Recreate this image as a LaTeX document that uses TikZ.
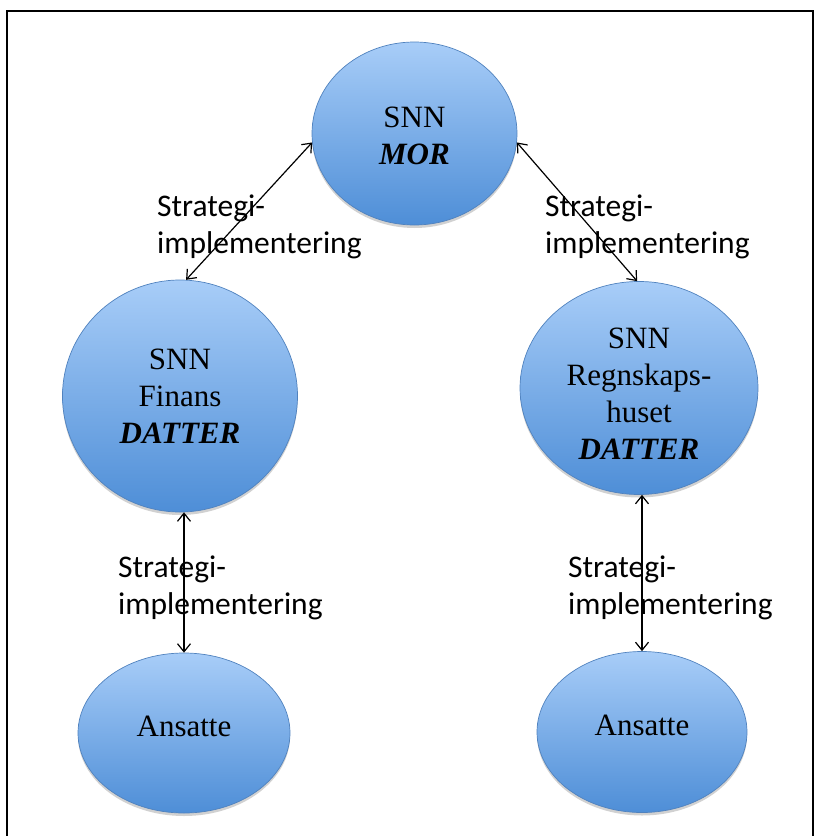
\documentclass[tikz,border=0pt]{standalone}
\usepackage{fontspec}
\setmainfont{Liberation Serif}
\newfontfamily\lblfont{Carlito}
\usetikzlibrary{shapes.geometric,arrows.meta,shadows}
\definecolor{btop}{RGB}{168,205,248}
\definecolor{bbot}{RGB}{78,142,215}
\definecolor{bline}{RGB}{80,130,190}
\tikzset{
  blob/.style={ellipse, draw=bline, line width=0.7pt, top color=btop, bottom color=bbot,
    inner sep=0pt, align=center, font=\fontsize{31}{37}\selectfont,
    drop shadow={shadow xshift=0pt, shadow yshift=-3pt, opacity=0.3, fill=black!60}},
  lbl/.style={font=\lblfont\fontsize{31.5}{37}\selectfont, align=left, inner sep=0pt, anchor=west},
  link/.style={line width=1.2pt, {Straight Barb[length=8pt,width=13pt]}-{Straight Barb[length=8pt,width=13pt]}},
  frame/.style={line width=2pt, black}
}
\begin{document}
\begin{tikzpicture}[x=1pt,y=-1pt]
\useasboundingbox (0,0) rectangle (819,836);
\draw[frame] (7,836) -- (7,11) -- (813,11) -- (813,836);

\node[blob, minimum width=205pt, minimum height=183pt] (mor) at (414.5,133.5) {\rule{0pt}{26pt}SNN\\\textbf{\textit{MOR}}};
\node[blob, minimum width=235pt, minimum height=232pt] (fin) at (180,396) {SNN\\Finans\\\textbf{\textit{DATTER}}};
\node[blob, minimum width=238pt, minimum height=213pt] (reg) at (639,388) {\rule{0pt}{33pt}SNN\\Regnskaps-\\huset\\\textbf{\textit{DATTER}}};
\node[blob, minimum width=212pt, minimum height=160pt, text depth=14pt] (ans1) at (184,733) {Ansatte};
\node[blob, minimum width=210pt, minimum height=161pt, text depth=14pt] (ans2) at (642,732) {Ansatte};

\node[lbl] (l1) at (157,227) {Strategi-\\implementering};
\node[lbl] (l2) at (545,227) {Strategi-\\implementering};
\node[lbl] (l3) at (118,588) {Strategi-\\implementering};
\node[lbl] (l4) at (568,588) {Strategi-\\implementering};

\draw[link] (mor.185) -- (fin.87);
\draw[link] (mor.355) -- (reg.91);
\draw[link] (ans1.north |- fin.south) -- (ans1.north);
\draw[link] (ans2.north |- reg.south) -- (ans2.north);
\end{tikzpicture}
\end{document}
